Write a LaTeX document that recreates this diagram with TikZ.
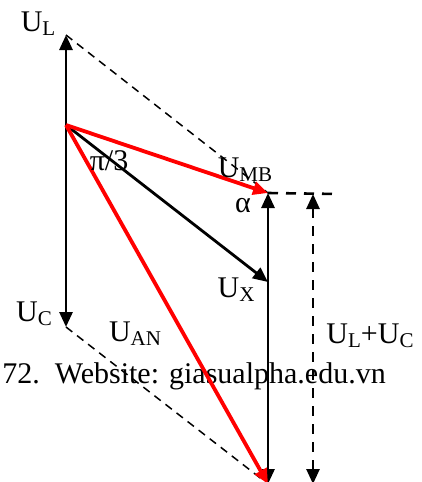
\documentclass[tikz,border=0pt]{standalone}
\usepackage{fontspec}
\setmainfont{Liberation Serif}
\usetikzlibrary{arrows.meta}
\newcommand{\lsub}[1]{\raisebox{-2pt}{\fontsize{10.5}{10.5}\selectfont #1}}

\begin{document}
\begin{tikzpicture}[
    x=0.5pt, y=-0.5pt,
    >={Triangle[length=7.5pt, width=6.5pt]},
    font=\fontsize{15}{17}\selectfont,
    vec/.style={->, line width=1.4pt, black},
    redvec/.style={->, line width=1.9pt, red},
    aux/.style={line width=0.75pt, dash pattern=on 4pt off 3pt},
    dimline/.style={line width=1.3pt, dash pattern=on 5pt off 4pt},
    lbl/.style={inner sep=0pt}
  ]
    \useasboundingbox (0,0) rectangle (422,482);
    \coordinate (O) at (66,125);
    \coordinate (L) at (66,35);
    \coordinate (C) at (66,327);
    \coordinate (M) at (268,193);
    \coordinate (X) at (268,282);
    \coordinate (A) at (268,484);
    \coordinate (T) at (313,194);
    \coordinate (B) at (313,484);
    \coordinate (E) at (338,194);
    \node[anchor=base west, inner sep=0pt] (web) at (2,383) {72.\ \ Website: giasualpha.edu.vn};
    \draw[aux] (L) -- (M);
    \draw[aux] (C) -- (A);
    \draw[dimline] (M) -- (E);
    \draw[dimline, <->] (B) -- (T);
    \draw[vec, <->] (A) -- (M);
    \draw[vec] (O) -- (L);
    \draw[vec] (O) -- (C);
    \draw[vec] (O) -- (X);
    \draw[redvec] (O) -- (M);
    \draw[redvec] (O) -- (A);
    \node[lbl] (uL) at (38,24) {U\lsub{L}};
    \node[lbl] (uC) at (34,314) {U\lsub{C}};
    \node[lbl] (uAN) at (135,334) {U\lsub{AN}};
    \node[lbl] (uX) at (236,290) {U\lsub{X}};
    \node[lbl] (uMB) at (245,170) {U\lsub{MB}};
    \node[lbl] (alpha) at (243,206) {α};
    \node[lbl] (phi) at (109,161) {π/3};
    \node[lbl] (uLC) at (370,336) {U\lsub{L}+U\lsub{C}};
  \end{tikzpicture}
\end{document}
